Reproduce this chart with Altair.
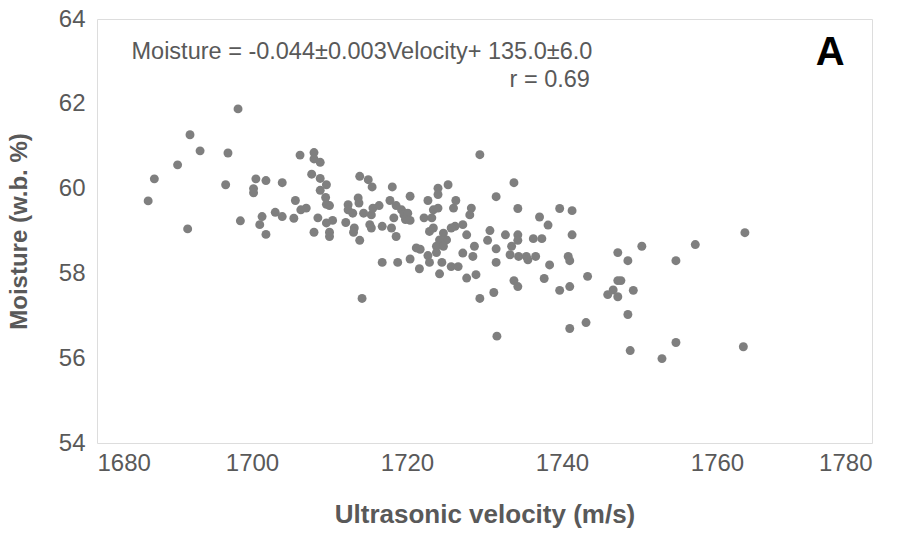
import altair as alt
import pandas as pd

velocity = [
    1698.2, 1692.0, 1693.3, 1696.9, 1690.4, 1687.4, 1696.6, 1700.5, 1701.8, 1703.9,
    1700.2, 1700.2, 1686.6, 1698.5, 1701.3, 1701.0, 1703.0, 1703.9, 1691.7, 1701.8,
    1706.2, 1708.0, 1708.0, 1708.8, 1707.7, 1708.8, 1709.6, 1708.8, 1709.5, 1709.6,
    1710.0, 1705.6, 1706.3, 1707.0, 1705.4, 1708.5, 1709.6, 1710.4, 1708.0, 1710.0,
    1710.0, 1712.4, 1712.4, 1713.7, 1713.8, 1713.9, 1715.0, 1715.5, 1713.0, 1712.1,
    1713.2, 1713.1, 1713.9, 1714.4, 1715.4, 1715.6, 1716.4, 1715.2, 1715.4, 1716.8,
    1718.1, 1717.8, 1718.6, 1719.3, 1718.3, 1719.6, 1720.1, 1719.8, 1720.4, 1718.0,
    1718.6, 1720.4, 1722.7, 1723.4, 1724.0, 1722.2, 1723.2, 1722.9, 1723.4, 1724.0,
    1724.0, 1725.3, 1726.3, 1726.0, 1728.3, 1728.1, 1727.2, 1726.2, 1725.7, 1729.4,
    1724.7, 1725.1, 1724.2, 1723.8, 1727.7, 1727.2, 1728.7, 1728.5, 1721.2, 1721.7,
    1716.8, 1718.8, 1720.4, 1722.7, 1722.9, 1721.6, 1723.8, 1724.5, 1724.2, 1725.7,
    1726.6, 1727.7, 1728.9, 1714.2, 1729.4, 1733.8, 1731.5, 1734.3, 1737.1, 1738.2,
    1739.7, 1741.3, 1741.3, 1730.7, 1730.4, 1732.7, 1734.3, 1734.3, 1733.5, 1733.3,
    1736.3, 1737.4, 1731.5, 1734.4, 1735.4, 1735.6, 1736.6, 1731.5, 1738.4, 1740.8,
    1741.0, 1733.8, 1734.3, 1737.7, 1731.2, 1739.7, 1741.0, 1743.3, 1747.2, 1748.5,
    1750.3, 1747.2, 1747.6, 1746.6, 1745.9, 1747.2, 1749.2, 1748.5, 1743.1, 1741.0,
    1754.7, 1757.2, 1763.6, 1748.8, 1752.9, 1754.7, 1763.4, 1731.6, 1724.7,
]
moisture = [
    61.88, 61.27, 60.89, 60.84, 60.56, 60.23, 60.09, 60.23, 60.19, 60.14,
    60.00, 59.90, 59.71, 59.24, 59.34, 59.15, 59.44, 59.34, 59.05, 58.92,
    60.79, 60.85, 60.70, 60.62, 60.34, 60.24, 60.09, 59.96, 59.79, 59.63,
    59.60, 59.72, 59.50, 59.54, 59.30, 59.31, 59.19, 59.25, 58.97, 58.97,
    58.87, 59.62, 59.50, 59.78, 59.66, 60.29, 60.21, 60.04, 59.42, 59.20,
    59.07, 58.97, 58.78, 59.42, 59.38, 59.54, 59.60, 59.15, 59.07, 59.11,
    60.04, 59.72, 59.60, 59.50, 59.31, 59.38, 59.42, 59.27, 59.25, 59.07,
    58.87, 59.82, 59.72, 59.50, 59.54, 59.31, 59.31, 58.99, 59.07, 60.01,
    59.86, 60.09, 59.72, 59.54, 59.54, 59.38, 59.15, 59.11, 59.07, 60.80,
    58.95, 58.79, 58.79, 58.64, 58.91, 58.48, 58.64, 58.40, 58.60, 58.57,
    58.26, 58.26, 58.34, 58.42, 58.26, 58.11, 58.49, 58.26, 57.99, 58.16,
    58.16, 57.89, 57.97, 57.41, 57.41, 60.14, 59.81, 59.53, 59.33, 59.14,
    59.53, 59.48, 58.91, 59.01, 58.78, 58.91, 58.91, 58.78, 58.64, 58.44,
    58.82, 58.82, 58.58, 58.40, 58.40, 58.32, 58.40, 58.26, 58.20, 58.40,
    58.30, 57.83, 57.69, 57.88, 57.55, 57.60, 57.69, 57.93, 58.49, 58.30,
    58.64, 57.83, 57.83, 57.61, 57.50, 57.45, 57.60, 57.03, 56.84, 56.70,
    58.30, 58.68, 58.96, 56.18, 55.99, 56.37, 56.27, 56.52, 58.64,
]

x_ticks = [1680, 1700, 1720, 1740, 1760, 1780]
y_ticks = [54, 56, 58, 60, 62, 64]

eq_text = ["Moisture = -0.044±0.003Velocity+ 135.0±6.0"]
eq_x = [1684.45]
eq_y = [63.23]
r_text = ["r = 0.69"]
r_x = [1743.6]
r_y = [62.57]
panel_text = ["A"]
panel_x = [1774.6]
panel_y = [63.2]

FONT = "Liberation Sans"
GREY = "#595959"

df = pd.DataFrame({"velocity": velocity, "moisture": moisture})

xs = alt.Scale(domain=[1680, 1780], nice=False, zero=False)
ys = alt.Scale(domain=[54, 64], nice=False, zero=False)

points = alt.Chart(df).mark_circle(size=80, color="#7f7f7f", opacity=1).encode(
    x=alt.X("velocity:Q", scale=xs,
            axis=alt.Axis(title="Ultrasonic  velocity (m/s)", values=x_ticks, format="d",
                          grid=False, domain=False, ticks=False, labelPadding=8,
                          labelFontSize=24, labelColor=GREY, labelFont=FONT,
                          titleFont=FONT, titleFontSize=26, titleFontWeight="bold",
                          titleColor=GREY, titlePadding=26)),
    y=alt.Y("moisture:Q", scale=ys,
            axis=alt.Axis(title="Moisture  (w.b. %)", values=y_ticks, format="d",
                          grid=False, domain=False, ticks=False, labelPadding=12,
                          labelFontSize=24, labelColor=GREY, labelFont=FONT,
                          titleFont=FONT, titleFontSize=24, titleFontWeight="bold",
                          titleColor=GREY, titlePadding=27)),
)

eq = alt.Chart(pd.DataFrame({"t": eq_text, "x": eq_x, "y": eq_y})).mark_text(
    align="left", baseline="middle", font=FONT, fontSize=23.5, color=GREY
).encode(x=alt.X("x:Q", scale=xs), y=alt.Y("y:Q", scale=ys), text="t:N")

rr = alt.Chart(pd.DataFrame({"t": r_text, "x": r_x, "y": r_y})).mark_text(
    align="right", baseline="middle", font=FONT, fontSize=23.5, color=GREY
).encode(x=alt.X("x:Q", scale=xs), y=alt.Y("y:Q", scale=ys), text="t:N")

pa = alt.Chart(pd.DataFrame({"t": panel_text, "x": panel_x, "y": panel_y})).mark_text(
    align="center", baseline="middle", font=FONT, fontSize=40, fontWeight="bold", color="#000000"
).encode(x=alt.X("x:Q", scale=xs), y=alt.Y("y:Q", scale=ys), text="t:N")

chart = alt.layer(points, eq, rr, pa).properties(
    width=775, height=424,
    autosize=alt.AutoSizeParams(type="none"),
    padding={"left": 97, "top": 19, "right": 37, "bottom": 94},
).configure_view(stroke="#bfbfbf", strokeWidth=1.5).configure(background="white")

chart.save("out.html", embed_options={"renderer": "svg", "actions": False})
